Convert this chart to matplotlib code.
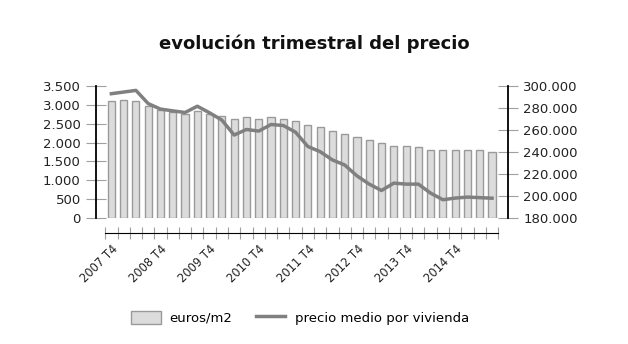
import matplotlib.pyplot as plt
from matplotlib.ticker import FuncFormatter

# trimestres desde 2007 T4 hasta 2015 T3
trimestres = [f"{2007 + (i + 3) // 4} T{(i + 3) % 4 + 1}" for i in range(32)]
euros_m2 = [3105, 3140, 3105, 2970, 2865, 2815, 2770, 2825, 2745, 2710,
            2630, 2665, 2630, 2665, 2630, 2585, 2470, 2425, 2315, 2235,
            2155, 2075, 1995, 1915, 1915, 1875, 1795, 1795, 1795, 1795,
            1795, 1760]
precio_vivienda = [293000, 294500, 296000, 284000, 279000, 277400, 275900, 281600,
                   275600, 269000, 255400, 260500, 259000, 265000, 264100, 258000,
                   245000, 240300, 232800, 228200, 218300, 210800, 205000, 211700,
                   210800, 210800, 202600, 196600, 198100, 199000, 198500, 198000]

x = list(range(len(trimestres)))

def miles(v, pos):
    return f"{int(v):,}".replace(",", ".")

fig = plt.figure(figsize=(6.28, 3.44), dpi=100)
ax = fig.add_axes([0.1529, 0.3663, 0.656, 0.3837])
ax2 = ax.twinx()

# spines first: moving a spine resets its ticks
for a in (ax, ax2):
    a.spines['top'].set_visible(False)
ax.spines['right'].set_visible(False)
ax2.spines['left'].set_visible(False)
ax2.spines['bottom'].set_visible(False)
ax.spines['bottom'].set_position(('outward', 11))
ax.spines['bottom'].set_bounds(-0.5, 31.5)
ax.spines['left'].set_linewidth(1.3)
ax2.spines['right'].set_linewidth(1.3)

ax.bar(x, euros_m2, width=0.58, color='#dcdcdc', edgecolor='#9a9a9a', linewidth=1.0,
       label='euros/m2', zorder=2)
ax2.plot(x, precio_vivienda, color='#808080', linewidth=2.5, label='precio medio por vivienda',
         solid_joinstyle='round')

ax.set_ylim(0, 3500)
ax.set_yticks(range(0, 3501, 500))
ax.yaxis.set_major_formatter(FuncFormatter(miles))
ax2.set_ylim(180000, 300000)
ax2.set_yticks(range(180000, 300001, 20000))
ax2.yaxis.set_major_formatter(FuncFormatter(miles))

ax.tick_params(axis='x', which='major', direction='inout', length=9, color='#a0a0a0')
ax.tick_params(axis='x', which='minor', length=0, pad=7)
ax.set_xlim(-1.25, 32.3)
ax.set_xticks([i - 0.5 for i in range(33)])
ax.set_xticklabels([])
ax.set_xticks(x[::4], minor=True)
ax.set_xticklabels(trimestres[::4], minor=True, rotation=45, ha='right',
                   rotation_mode='anchor', fontsize=8.3, color='#222222')

ax.tick_params(axis='y', direction='inout', length=14, color='#a0a0a0',
               labelsize=9.5, pad=4, labelcolor='#222222')
ax2.tick_params(axis='y', direction='inout', length=14, color='#a0a0a0',
                labelsize=9.5, pad=4, labelcolor='#222222')

fig.suptitle('evolución trimestral del precio', x=0.5, y=0.9, fontsize=13,
             fontweight='bold', color='#111111')

h1, l1 = ax.get_legend_handles_labels()
h2, l2 = ax2.get_legend_handles_labels()
fig.legend(h1 + h2, l1 + l2, loc='center', bbox_to_anchor=(0.478, 0.076), ncol=2,
           frameon=False, fontsize=9.5, handlelength=2.2, handleheight=1.1,
           handletextpad=0.7, columnspacing=1.8)

fig.savefig('out.png', dpi=100)
